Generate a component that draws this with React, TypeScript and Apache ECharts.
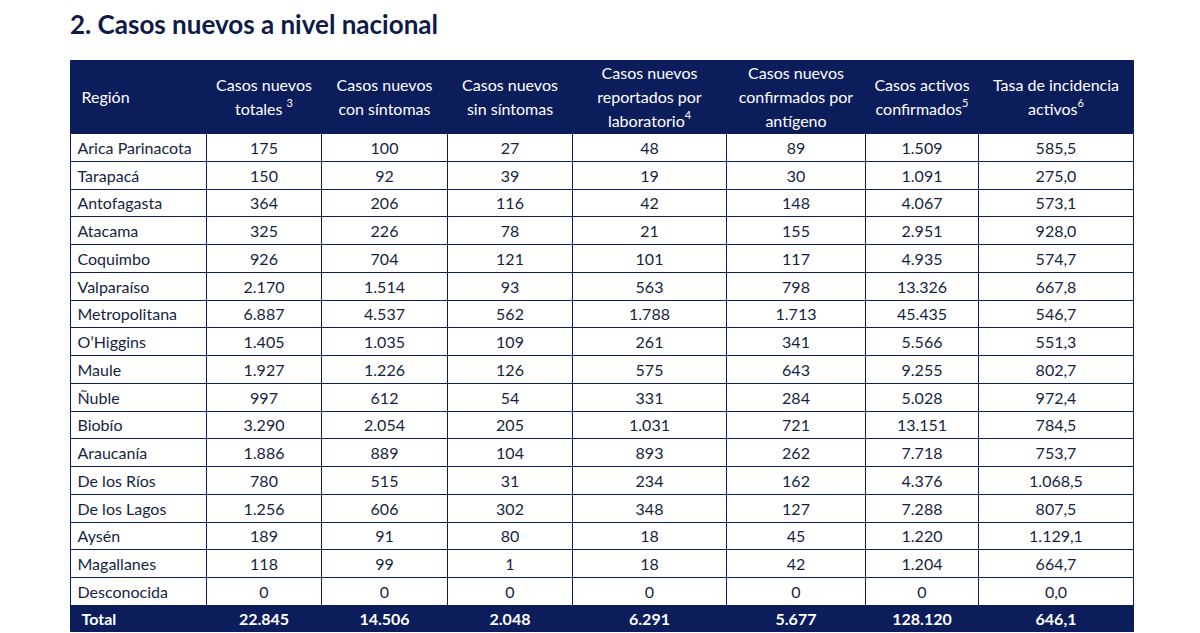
import React, { useEffect, useRef } from "react";
import * as echarts from "echarts";

const titleText = "2. Casos nuevos a nivel nacional";

const headers = [
  "Región",
  "Casos nuevos\ntotales {s|3}",
  "Casos nuevos\ncon síntomas",
  "Casos nuevos\nsin síntomas",
  "Casos nuevos\nreportados por\nlaboratorio{s|4}",
  "Casos nuevos\nconfirmados por\nantígeno",
  "Casos activos\nconfirmados{s|5}",
  "Tasa de incidencia\nactivos{s|6}",
];

const regions = [
  "Arica Parinacota", "Tarapacá", "Antofagasta", "Atacama", "Coquimbo", "Valparaíso",
  "Metropolitana", "O’Higgins", "Maule", "Ñuble", "Biobío", "Araucanía",
  "De los Ríos", "De los Lagos", "Aysén", "Magallanes", "Desconocida",
];
const casosTotales = [175, 150, 364, 325, 926, 2170, 6887, 1405, 1927, 997, 3290, 1886, 780, 1256, 189, 118, 0];
const conSintomas = [100, 92, 206, 226, 704, 1514, 4537, 1035, 1226, 612, 2054, 889, 515, 606, 91, 99, 0];
const sinSintomas = [27, 39, 116, 78, 121, 93, 562, 109, 126, 54, 205, 104, 31, 302, 80, 1, 0];
const laboratorio = [48, 19, 42, 21, 101, 563, 1788, 261, 575, 331, 1031, 893, 234, 348, 18, 18, 0];
const antigeno = [89, 30, 148, 155, 117, 798, 1713, 341, 643, 284, 721, 262, 162, 127, 45, 42, 0];
const activos = [1509, 1091, 4067, 2951, 4935, 13326, 45435, 5566, 9255, 5028, 13151, 7718, 4376, 7288, 1220, 1204, 0];
const tasa = [585.5, 275.0, 573.1, 928.0, 574.7, 667.8, 546.7, 551.3, 802.7, 972.4, 784.5, 753.7, 1068.5, 807.5, 1129.1, 664.7, 0.0];
const totalLabel = "Total";
const totals = [22845, 14506, 2048, 6291, 5677, 128120, 646.1];

// layout (column widths in px units of the x value axis)
const colWidths = [136, 115, 126, 125, 154, 139, 113, 155];
const HEADER_ROWS = 2.63;
const TOTAL_ROWS = 0.94;

const NAVY = "#0c1d5c";
const TEXT = "#161f40";
const FONT = "Lato, 'Open Sans', sans-serif";

function fmtInt(v: number): string {
  return Math.round(v).toString().replace(/\B(?=(\d{3})+(?!\d))/g, ".");
}
function fmtDec(v: number): string {
  const [i, d] = v.toFixed(1).split(".");
  return fmtInt(Number(i)) + "," + d;
}

export default function App() {
  const ref = useRef<HTMLDivElement>(null);
  useEffect(() => {
    if (!ref.current) return;
    const chart = echarts.init(ref.current, undefined, { renderer: "svg" });
    const edges = [0];
    colWidths.forEach((w) => edges.push(edges[edges.length - 1] + w));
    const total = edges[edges.length - 1];
    const nRows = regions.length;

    const cells: any[] = [];
    headers.forEach((h, c) => cells.push({ value: [c, -HEADER_ROWS, 0], text: h, kind: "head" }));
    const cols = [casosTotales, conSintomas, sinSintomas, laboratorio, antigeno, activos];
    regions.forEach((r, i) => {
      cells.push({ value: [0, i, i + 1], text: r, kind: "body" });
      cols.forEach((arr, c) => cells.push({ value: [c + 1, i, i + 1], text: fmtInt(arr[i]), kind: "body" }));
      cells.push({ value: [7, i, i + 1], text: fmtDec(tasa[i]), kind: "body" });
    });
    cells.push({ value: [0, nRows, nRows + TOTAL_ROWS], text: totalLabel, kind: "total" });
    totals.forEach((t, c) =>
      cells.push({ value: [c + 1, nRows, nRows + TOTAL_ROWS], text: c === 6 ? fmtDec(t) : fmtInt(t), kind: "total" })
    );

    chart.setOption({
      animation: false,
      title: {
        text: titleText,
        left: 65,
        top: 6,
        textStyle: { fontFamily: FONT, fontSize: 26, fontWeight: "bold", color: "#0d1a4a" },
      },
      grid: { left: 70, top: 60, width: total, height: 571 },
      xAxis: { type: "value", min: 0, max: total, show: false },
      yAxis: { type: "value", min: -HEADER_ROWS, max: nRows + TOTAL_ROWS, inverse: true, show: false },
      series: [
        {
          type: "custom",
          data: cells,
          renderItem: (params: any, api: any) => {
            const item = cells[params.dataIndex];
            const c = api.value(0);
            const p0 = api.coord([edges[c], api.value(1)]);
            const p1 = api.coord([edges[c + 1], api.value(2)]);
            const x0 = Math.round(p0[0]) + 0.5, y0 = Math.round(p0[1]) + 0.5;
            const x1 = Math.round(p1[0]) + 0.5, y1 = Math.round(p1[1]) + 0.5;
            const dark = item.kind !== "body";
            const bold = item.kind === "total";
            const left = c === 0;
            const tx = left ? x0 + (item.kind === "body" ? 7 : 11) : (x0 + x1) / 2;
            const fill = dark ? "#ffffff" : TEXT;
            return {
              type: "group",
              children: [
                {
                  type: "rect",
                  shape: { x: x0, y: y0, width: x1 - x0, height: y1 - y0 },
                  style: { fill: dark ? NAVY : "#ffffff", stroke: NAVY, lineWidth: 1 },
                },
                {
                  type: "text",
                  style: {
                    text: item.text,
                    x: tx,
                    y: (y0 + y1) / 2 - 0.5,
                    align: left ? "left" : "center",
                    verticalAlign: "middle",
                    fill,
                    fontFamily: FONT,
                    fontSize: 16,
                    fontWeight: bold ? "bold" : "normal",
                    lineHeight: 24,
                    rich: {
                      s: { fontSize: 11, fill, fontFamily: FONT, verticalAlign: "top", lineHeight: 24, padding: [0, 0, 6, 0] },
                    },
                  },
                },
              ],
            };
          },
        },
      ],
    });
    return () => chart.dispose();
  }, []);
  return (
    <div
      ref={ref}
      style={{ position: "fixed", left: 0, top: 0, width: 1200, height: 633, background: "#ffffff" }}
    />
  );
}
